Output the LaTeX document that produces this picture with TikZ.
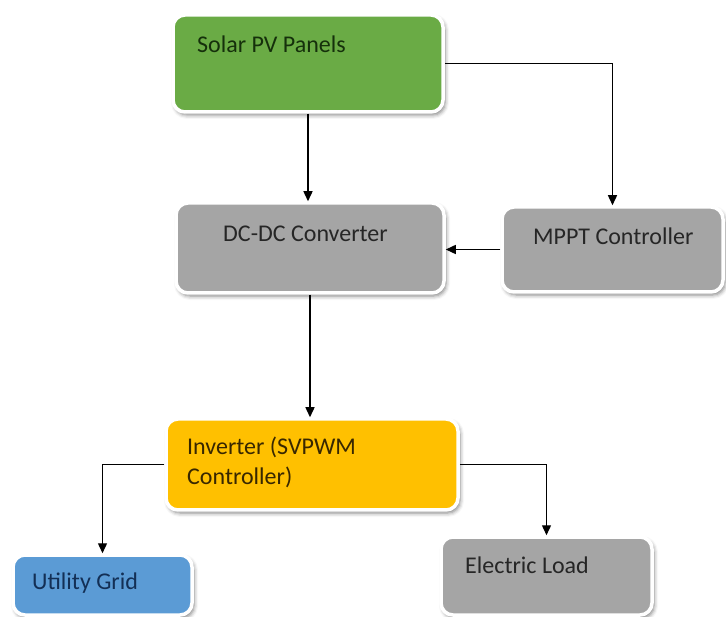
\documentclass[tikz,border=0pt]{standalone}
\usepackage{fontspec}
\setmainfont{Carlito}
\usetikzlibrary{arrows.meta,shadows.blur}

\definecolor{pvgreen}{HTML}{6AAB45}
\definecolor{boxgrey}{HTML}{A5A5A5}
\definecolor{invorange}{HTML}{FFC000}
\definecolor{gridblue}{HTML}{5B9BD5}
\definecolor{pvtext}{HTML}{15300B}
\definecolor{greytext}{HTML}{262626}
\definecolor{invtext}{HTML}{382700}
\definecolor{gridtext}{HTML}{132F55}

\tikzset{
  block/.style={draw=white, line width=3.5pt, rounded corners=12pt,
    blur shadow={shadow xshift=2pt, shadow yshift=-3pt,
                 shadow blur radius=4pt, shadow opacity=50},
    inner sep=0pt},
  lbl/.style={anchor=base west, inner sep=0pt, font=\fontsize{24}{28}\selectfont},
  flow/.style={draw=black, line width=1.4pt,
    -{Triangle[length=10pt,width=9pt]}}
}

\begin{document}
\begin{tikzpicture}[x=1pt,y=-1pt]
  \useasboundingbox (0,0) rectangle (726,617);

  % blocks
  \node[block, fill=pvgreen, minimum width=270pt, minimum height=97pt] (pv) at (308,63.5) {};
  \node[block, fill=boxgrey, minimum width=268pt, minimum height=90pt] (dcdc) at (310,248) {};
  \node[block, fill=boxgrey, minimum width=221pt, minimum height=85pt] (mppt) at (612.5,249.5) {};
  \node[block, fill=invorange, minimum width=292pt, minimum height=91pt] (inv) at (312,464.5) {};
  \node[block, fill=gridblue, minimum width=179pt, minimum height=60pt] (grid) at (102.5,585) {};
  \node[block, fill=boxgrey, minimum width=211pt, minimum height=78pt] (load) at (546.5,576) {};

  % labels
  \node[lbl, text=pvtext] (pvt) at (197,53) {Solar PV Panels};
  \node[lbl, text=greytext] (dct) at (223,242) {DC-DC Converter};
  \node[lbl, text=greytext] (mpt) at (533,245) {MPPT Controller};
  \node[lbl, text=invtext] (inv1) at (187,455) {Inverter (SVPWM};
  \node[lbl, text=invtext] (inv2) at (187,485) {Controller)};
  \node[lbl, text=gridtext] (grt) at (32,589) {Utility Grid};
  \node[lbl, text=greytext] (ldt) at (465,573) {Electric Load};

  % connectors
  \draw[flow] (pv.south) -- (pv.south |- dcdc.north);
  \draw[flow] (pv.east) -| (mppt.north);
  \draw[flow] (mppt.west) -- (mppt.west -| dcdc.east);
  \draw[flow] (dcdc.south) -- (dcdc.south |- inv.north);
  \draw[flow] (inv.west) -| (grid.north);
  \draw[flow] (inv.east) -| (load.north);
\end{tikzpicture}
\end{document}
